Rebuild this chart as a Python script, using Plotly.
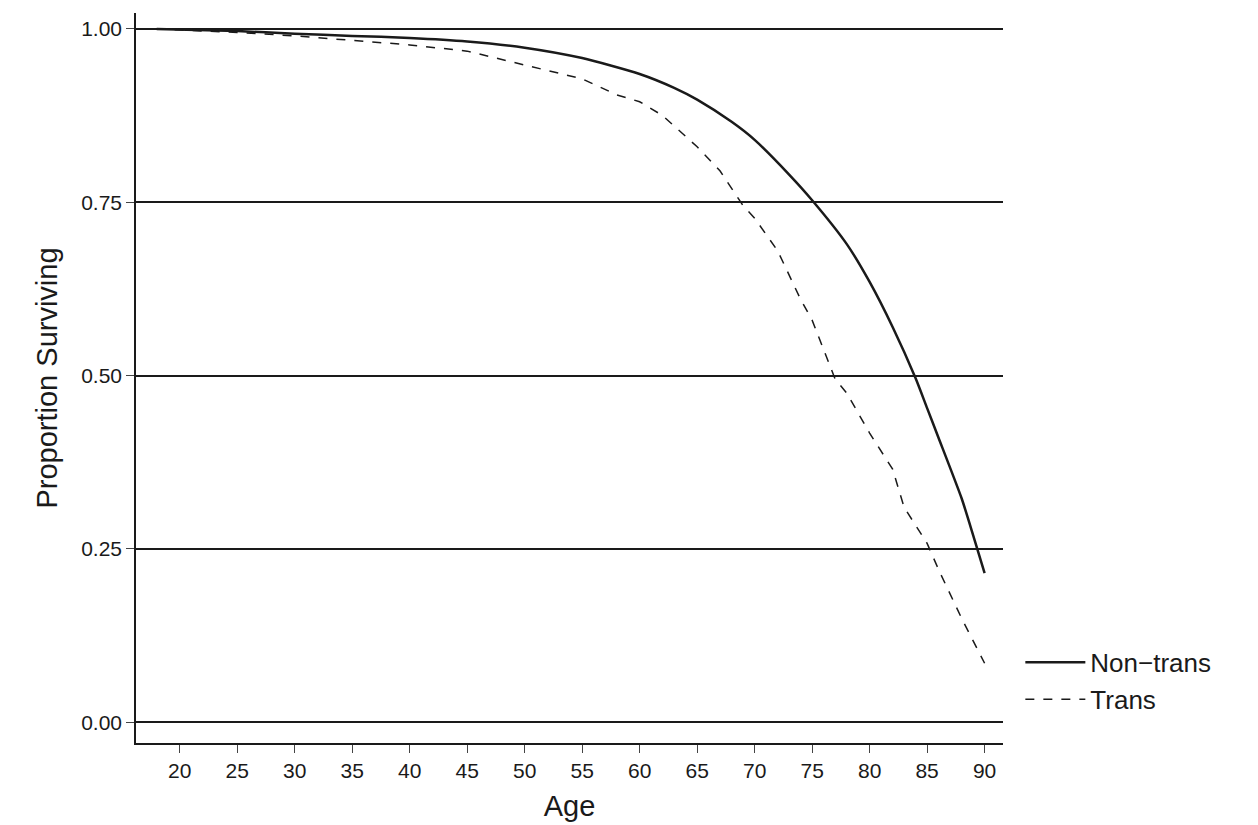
import plotly.graph_objects as go

age_non = [18, 25, 30, 35, 40, 45, 50, 55, 60, 63, 65, 68, 70, 73, 75, 78, 80, 82, 84, 85, 86, 88, 89, 90]
surv_non = [1.0, 0.997, 0.993, 0.990, 0.987, 0.982, 0.973, 0.958, 0.935, 0.915, 0.898, 0.866, 0.840, 0.790, 0.753, 0.690, 0.635, 0.570, 0.496, 0.453, 0.410, 0.323, 0.270, 0.215]

age_trans = [18, 25, 30, 35, 40, 45, 50, 55, 58, 60, 62, 65, 67, 69, 70, 72, 74, 75, 77, 78, 80, 82, 83, 85, 86, 88, 90]
surv_trans = [1.0, 0.995, 0.990, 0.983, 0.977, 0.968, 0.948, 0.928, 0.905, 0.895, 0.875, 0.830, 0.795, 0.745, 0.727, 0.680, 0.610, 0.580, 0.495, 0.475, 0.417, 0.365, 0.310, 0.258, 0.220, 0.150, 0.085]

fig = go.Figure()
fig.add_trace(go.Scatter(x=age_non, y=surv_non, mode="lines", name="Non\u2212trans",
                         line=dict(color="#1a1a1a", width=2.5, shape="spline", smoothing=0.6)))
fig.add_trace(go.Scatter(x=age_trans, y=surv_trans, mode="lines", name="Trans",
                         line=dict(color="#1a1a1a", width=1.5, dash="dash")))

fig.update_layout(
    width=1258, height=825, plot_bgcolor="white", paper_bgcolor="white",
    margin=dict(l=128, r=263, t=5, b=90, autoexpand=False),
    font=dict(family="Liberation Sans, Arial", color="#1a1a1a", size=21),
    legend=dict(x=1.02, y=0.085, yanchor="middle", xanchor="left",
                font=dict(size=26), itemwidth=60),
    xaxis=dict(range=[16.2, 91.6], tickvals=list(range(20, 95, 5)), automargin=False,
               ticks="outside", ticklen=8, showgrid=False, zeroline=False,
               showline=True, linecolor="#1a1a1a", linewidth=1.5,
               title=dict(text="Age", font=dict(size=29), standoff=15)),
    yaxis=dict(range=[-0.03, 1.023], tickvals=[0, 0.25, 0.5, 0.75, 1.0], tickformat=".2f",
               automargin=False,
               ticks="outside", ticklen=8, showgrid=True, gridcolor="#1a1a1a", gridwidth=1.5,
               zeroline=False, showline=True, linecolor="#1a1a1a", linewidth=1.5,
               title=dict(text="Proportion Surviving", font=dict(size=29))),
)

fig.write_html("out.html")
